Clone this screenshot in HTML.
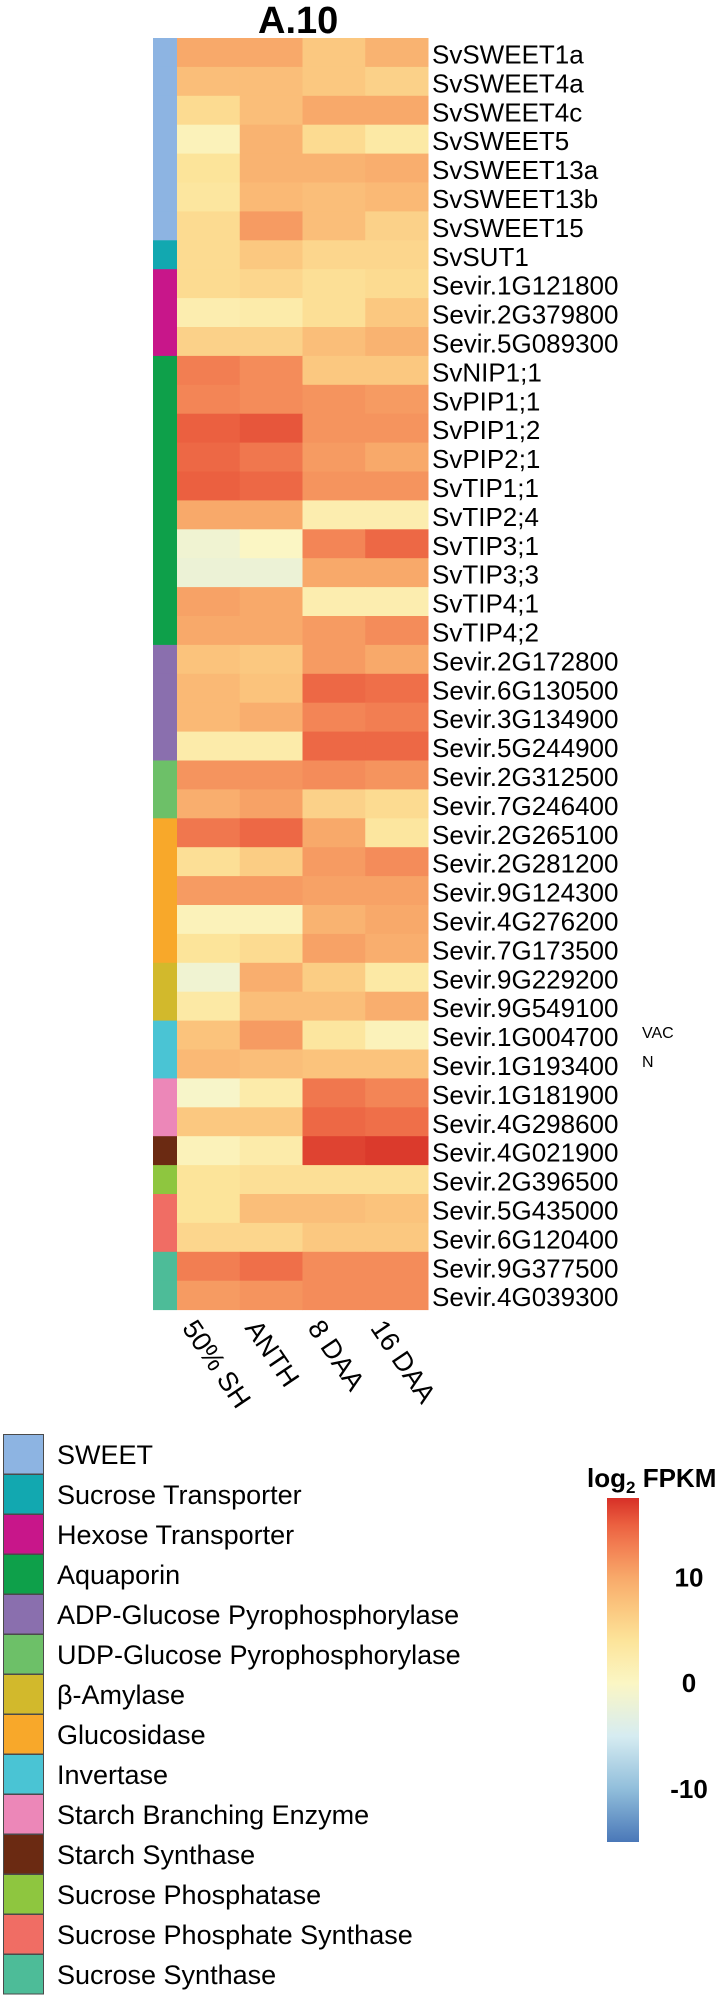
<!DOCTYPE html>
<html><head><meta charset="utf-8"><style>
html,body{margin:0;padding:0;background:#fff;width:728px;height:2000px;overflow:hidden}
svg{display:block;font-family:"Liberation Sans",Arial,sans-serif}
</style></head><body>
<svg id="chart" width="728" height="2000" viewBox="0 0 728 2000"></svg>
<script>
const genes = ["SvSWEET1a","SvSWEET4a","SvSWEET4c","SvSWEET5","SvSWEET13a","SvSWEET13b","SvSWEET15","SvSUT1","Sevir.1G121800","Sevir.2G379800","Sevir.5G089300","SvNIP1;1","SvPIP1;1","SvPIP1;2","SvPIP2;1","SvTIP1;1","SvTIP2;4","SvTIP3;1","SvTIP3;3","SvTIP4;1","SvTIP4;2","Sevir.2G172800","Sevir.6G130500","Sevir.3G134900","Sevir.5G244900","Sevir.2G312500","Sevir.7G246400","Sevir.2G265100","Sevir.2G281200","Sevir.9G124300","Sevir.4G276200","Sevir.7G173500","Sevir.9G229200","Sevir.9G549100","Sevir.1G004700","Sevir.1G193400","Sevir.1G181900","Sevir.4G298600","Sevir.4G021900","Sevir.2G396500","Sevir.5G435000","Sevir.6G120400","Sevir.9G377500","Sevir.4G039300"];
const stages = ["50% SH","ANTH","8 DAA","16 DAA"];
const valSH   = [10,8,5,1,4,3.5,5,5,5,2,6,13,12.5,15,14.5,15,10,-1.5,-2,10.5,10,7.5,8.5,8.5,2.5,11.5,9.5,13.5,4.5,11,1,4,-1.5,3,7.5,8.5,-0.5,7,1,4,4,5.5,13,11];
const valANTH = [10,8,8,9,9,8.5,11,7,5.5,2.5,6,12,12,15.5,13.5,14.5,10,0,-2,10,10,7,7.5,9.5,2.5,11.5,10.5,14.5,6.5,11,1,5,9.5,8,11,8,2.5,7,2.5,4.5,8,5.5,14,11.5];
const val8DAA = [7,7,10,5,9,8,8,5.5,4.5,4.5,8,7,11.5,11.5,11,11.5,2,12.5,10,2,11,11,14.5,12.5,14.5,12,6,10,11,10.5,9,10.5,6.5,8,3.5,7.5,13.5,14.5,16.5,4.5,8,7,12,12];
const val16DAA= [9,6,10,3,9.5,8.5,6,5.5,5,7,9,7,11,11.5,10,11.5,2,14.5,10,2,12,10,14,13,14.5,11.5,5,3.5,12,10.5,10,9.5,3,9.5,1,7.5,12.5,14,17,4.5,7.5,7,12,12];
const groupNames = ["SWEET","Sucrose Transporter","Hexose Transporter","Aquaporin","ADP-Glucose Pyrophosphorylase","UDP-Glucose Pyrophosphorylase","β-Amylase","Glucosidase","Invertase","Starch Branching Enzyme","Starch Synthase","Sucrose Phosphatase","Sucrose Phosphate Synthase","Sucrose Synthase"];
const groupOfRow = [0,0,0,0,0,0,0,1,2,2,2,3,3,3,3,3,3,3,3,3,3,4,4,4,4,5,5,7,7,7,7,7,6,6,8,8,9,9,10,11,12,12,13,13];
const groupColors = ["#8db4e2","#12a8b0","#c8168a","#0ea04a","#8a6fae","#6dc068","#d2b92c","#f8a82a","#4ac4d4","#ec87b8","#6b2a12","#8ec63f","#f06d64","#4dbc98"];
const cbTicks = [10,0,-10];

const NS="http://www.w3.org/2000/svg";
const svg=document.getElementById('chart');
function mk(tag,attrs,parent){const e=document.createElementNS(NS,tag);for(const k in attrs)e.setAttribute(k,attrs[k]);(parent||svg).appendChild(e);return e;}
const stops=[[-15,[74,120,184]],[-10,[145,190,219]],[-5,[214,236,241]],[0,[251,246,196]],[4,[252,228,154]],[7,[251,200,128]],[10,[248,169,106]],[13,[242,126,82]],[15,[235,96,64]],[17.5,[215,48,39]]];
function color(v){
  if(v<=stops[0][0])return 'rgb('+stops[0][1]+')';
  for(let i=1;i<stops.length;i++){if(v<=stops[i][0]){const a=stops[i-1],b=stops[i];const t=(v-a[0])/(b[0]-a[0]);const c=a[1].map((x,j)=>Math.round(x+(b[1][j]-x)*t));return 'rgb('+c+')';}}
  return 'rgb('+stops[stops.length-1][1]+')';
}
const X0=177,CW=62.75,Y0=38,RH=28.9,SX=153;
const xScale=i=>X0+i*CW, yScale=i=>Y0+i*RH;
const series=[valSH,valANTH,val8DAA,val16DAA];

const title=mk('text',{x:258,y:33,'font-size':38,'font-weight':'bold'});
title.textContent='A.10';



genes.forEach((g,r)=>{
  const s=mk('rect',{x:SX,y:yScale(r),width:X0-SX,height:RH+0.5,fill:groupColors[groupOfRow[r]]});
  
  
  series.forEach((arr,c)=>{
    const cell=mk('rect',{x:xScale(c),y:yScale(r),width:CW+0.5,height:RH+0.5,fill:color(arr[r])});
    
    
  });
  const t=mk('text',{x:432,y:yScale(r)+25.5,'font-size':26});
  t.textContent=g;
  
  
});
const vac=mk('text',{x:642,y:1038,'font-size':16});vac.textContent='VAC';


const nn=mk('text',{x:642,y:1067,'font-size':16});nn.textContent='N';



stages.forEach((s,c)=>{
  const x=xScale(c)+CW/2-27, y=1328;
  const t=mk('text',{x:x,y:y,'font-size':27,transform:'rotate(56 '+x+' '+y+')'});
  t.textContent=s;
  
  
});

groupNames.forEach((n,i)=>{
  const y=1434+i*40;
  const r=mk('rect',{x:3.5,y:y+0.5,width:40,height:39.5,fill:groupColors[i],stroke:'#4a4a4a','stroke-width':1});
  
  
  const t=mk('text',{x:57,y:y+30,'font-size':27});
  t.textContent=n;
  
  
});

// colorbar
const VMAX=17.5,VMIN=-15,CBT=1498,CBB=1842;
const cbY=v=>CBT+(VMAX-v)/(VMAX-VMIN)*(CBB-CBT);
const defs=mk('defs',{});
const lg=mk('linearGradient',{id:'cbg',x1:0,y1:0,x2:0,y2:1},defs);
for(let i=stops.length-1;i>=0;i--){mk('stop',{offset:((VMAX-stops[i][0])/(VMAX-VMIN)).toFixed(4),'stop-color':'rgb('+stops[i][1]+')'},lg);}
const cb=mk('rect',{x:607,y:CBT,width:32,height:CBB-CBT,fill:'url(#cbg)'});


cbTicks.forEach(v=>{
  const t=mk('text',{x:689,y:cbY(v)+9,'font-size':26,'font-weight':'bold','text-anchor':'middle'});
  t.textContent=v;
  
  
});
const cbt=mk('text',{x:587,y:1487,'font-size':26,'font-weight':'bold'});
cbt.innerHTML='log<tspan font-size="17" dy="6">2</tspan><tspan dy="-6"> FPKM</tspan>';


</script>
</body></html>
